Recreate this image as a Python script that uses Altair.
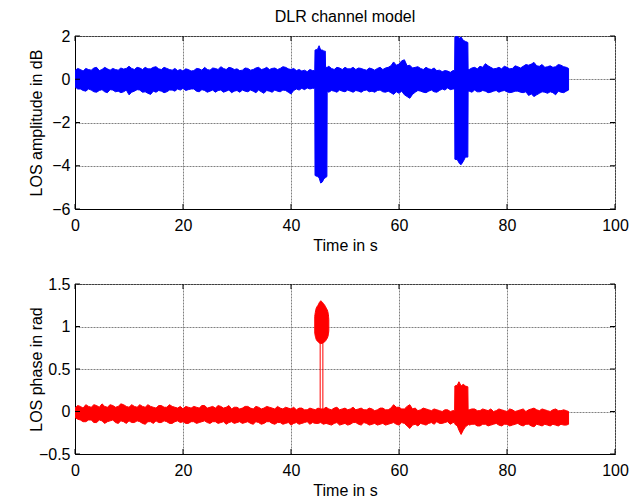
import altair as alt
import pandas as pd

# ---------------- data ----------------
# envelope of the noisy traces, sampled every second (t = 0..91, then 91.4)
base_t = list(range(92)) + [91.4]
# and the half-second points in between (t = 0.5 .. 90.5)
half_t = [k + 0.5 for k in range(91)]

# top panel: LOS amplitude envelope (dB)
amp_hi = [0.40,0.45,0.50,0.42,0.55,0.45,0.48,0.50,0.42,0.47,
          0.60,0.45,0.52,0.55,0.48,0.58,0.45,0.50,0.42,0.40,
          0.38,0.45,0.40,0.48,0.55,0.42,0.50,0.58,0.45,0.52,
          0.48,0.42,0.50,0.45,0.55,0.48,0.45,0.52,0.50,0.55,
          0.45,0.40,0.38,0.35,0.40,0.45,0.50,0.60,0.45,0.52,
          0.55,0.48,0.45,0.50,0.42,0.48,0.50,0.45,0.55,0.80,
          0.70,0.90,0.65,0.55,0.50,0.55,0.45,0.40,0.35,0.38,
          0.40,0.42,0.45,0.45,0.55,0.60,0.72,0.55,0.50,0.48,
          0.55,0.50,0.58,0.60,0.65,0.78,0.60,0.55,0.62,0.58,
          0.65,0.55,0.50]
amp_hi_half = [0.50,0.38,0.45,0.52,0.40,0.55,0.42,0.45,0.52,0.50,
               0.50,0.55,0.45,0.48,0.55,0.48,0.55,0.45,0.50,0.45,
               0.48,0.38,0.50,0.42,0.45,0.52,0.45,0.50,0.55,0.45,
               0.40,0.52,0.42,0.52,0.45,0.55,0.50,0.45,0.58,0.48,
               0.50,0.45,0.42,0.45,0.45,0.50,0.50,0.50,0.55,0.45,
               0.48,0.55,0.52,0.45,0.52,0.42,0.55,0.52,0.62,0.65,
               0.85,0.62,0.52,0.58,0.45,0.48,0.52,0.42,0.40,0.32,
               0.45,0.45,0.45,0.52,0.48,0.55,0.62,0.48,0.55,0.60,
               0.48,0.62,0.52,0.68,0.70,0.62,0.68,0.58,0.55,0.68,
               0.58]
amp_lo = [-0.35,-0.45,-0.55,-0.50,-0.60,-0.48,-0.62,-0.50,-0.55,-0.58,
          -0.72,-0.55,-0.50,-0.58,-0.70,-0.60,-0.55,-0.58,-0.50,-0.45,
          -0.42,-0.48,-0.45,-0.58,-0.52,-0.55,-0.60,-0.50,-0.55,-0.62,
          -0.52,-0.50,-0.58,-0.55,-0.50,-0.65,-0.55,-0.50,-0.58,-0.52,
          -0.68,-0.45,-0.42,-0.40,-0.42,-0.50,-0.55,-0.60,-0.55,-0.50,
          -0.58,-0.55,-0.52,-0.60,-0.50,-0.55,-0.52,-0.58,-0.55,-0.70,
          -0.65,-0.72,-0.88,-0.60,-0.55,-0.62,-0.50,-0.60,-0.45,-0.40,
          -0.45,-0.50,-0.50,-0.55,-0.50,-0.58,-0.55,-0.60,-0.52,-0.55,
          -0.58,-0.60,-0.55,-0.62,-0.75,-0.80,-0.65,-0.60,-0.58,-0.72,
          -0.60,-0.55,-0.50]
amp_lo_half = [-0.45,-0.52,-0.45,-0.58,-0.52,-0.58,-0.48,-0.58,-0.62,-0.50,
               -0.60,-0.48,-0.60,-0.65,-0.55,-0.52,-0.62,-0.50,-0.55,-0.50,
               -0.52,-0.45,-0.55,-0.48,-0.60,-0.50,-0.52,-0.60,-0.50,-0.55,
               -0.60,-0.55,-0.50,-0.62,-0.58,-0.52,-0.60,-0.55,-0.50,-0.60,
               -0.52,-0.50,-0.48,-0.45,-0.45,-0.50,-0.50,-0.52,-0.60,-0.55,
               -0.50,-0.60,-0.55,-0.52,-0.58,-0.60,-0.50,-0.60,-0.62,-0.58,
               -0.55,-0.80,-0.70,-0.52,-0.60,-0.55,-0.58,-0.52,-0.50,-0.48,
               -0.50,-0.50,-0.50,-0.60,-0.58,-0.52,-0.62,-0.55,-0.60,-0.52,
               -0.62,-0.55,-0.60,-0.58,-0.68,-0.72,-0.58,-0.65,-0.62,-0.55,
               -0.62]

# amplitude fade events
amp_ev1_t  = [44.4, 44.45, 44.9, 45.2, 45.5, 45.8, 46.1, 46.35, 46.4, 46.65, 46.7]
amp_ev1_hi = [0.40, 1.35, 1.38, 1.55, 1.35, 1.35, 1.30, 1.30, 0.55, 0.55, 0.55]
amp_ev1_lo = [-0.42, -4.45, -4.50, -4.55, -4.80, -4.75, -4.60, -4.55, -4.55, -4.50, -0.55]
amp_ev2_t  = [70.3, 70.35, 70.8, 71.2, 71.5, 71.9, 72.3, 72.75, 72.8]
amp_ev2_hi = [0.40, 1.95, 2.00, 1.90, 1.95, 1.80, 1.75, 1.70, 0.45]
amp_ev2_lo = [-0.45, -3.70, -3.72, -3.90, -3.95, -3.80, -3.60, -3.60, -0.55]

# bottom panel: LOS phase envelope (rad)
ph_hi = [0.04,0.06,0.08,0.05,0.07,0.09,0.05,0.07,0.06,0.08,
         0.05,0.06,0.08,0.05,0.06,0.04,0.07,0.05,0.06,0.04,
         0.03,0.05,0.06,0.04,0.07,0.05,0.04,0.06,0.05,0.03,
         0.05,0.04,0.06,0.03,0.05,0.04,0.05,0.03,0.04,0.05,
         0.03,0.02,0.04,0.02,0.03,0.04,0.03,0.03,0.04,0.02,
         0.04,0.03,0.02,0.04,0.02,0.03,0.02,0.04,0.02,0.08,
         0.05,0.03,0.08,0.04,0.02,0.03,0.01,0.02,0.00,0.02,
         0.01,0.02,0.02,0.02,0.03,0.01,0.02,0.03,0.01,0.02,
         0.00,0.02,0.01,0.03,0.02,0.04,0.01,0.02,0.00,0.03,
         0.01,0.01,0.00]
ph_hi_half = [0.07,0.04,0.06,0.08,0.05,0.06,0.08,0.05,0.09,0.06,
              0.08,0.05,0.06,0.08,0.05,0.07,0.05,0.08,0.05,0.06,
              0.06,0.04,0.05,0.07,0.04,0.06,0.07,0.04,0.07,0.05,
              0.03,0.06,0.04,0.06,0.03,0.06,0.04,0.06,0.03,0.04,
              0.05,0.04,0.02,0.04,0.02,0.03,0.05,0.02,0.05,0.03,
              0.02,0.05,0.03,0.02,0.04,0.01,0.04,0.02,0.04,0.05,
              0.03,0.06,0.03,0.01,0.04,0.02,0.03,0.01,0.02,0.00,
              0.00,0.00,0.00,0.03,0.01,0.03,0.01,0.00,0.03,0.01,
              0.03,0.00,0.02,0.00,0.03,0.02,0.03,0.01,0.02,0.01,
              0.02]
ph_lo = [-0.07,-0.10,-0.12,-0.10,-0.13,-0.11,-0.12,-0.10,-0.14,-0.12,
         -0.11,-0.13,-0.12,-0.15,-0.12,-0.11,-0.13,-0.12,-0.14,-0.11,
         -0.12,-0.14,-0.12,-0.13,-0.11,-0.14,-0.12,-0.13,-0.15,-0.12,
         -0.13,-0.14,-0.12,-0.15,-0.13,-0.14,-0.12,-0.15,-0.13,-0.14,
         -0.16,-0.13,-0.14,-0.12,-0.13,-0.14,-0.15,-0.15,-0.14,-0.16,
         -0.14,-0.15,-0.13,-0.16,-0.14,-0.15,-0.16,-0.14,-0.15,-0.13,
         -0.16,-0.14,-0.20,-0.15,-0.14,-0.16,-0.13,-0.12,-0.14,-0.12,
         -0.13,-0.15,-0.15,-0.16,-0.15,-0.17,-0.15,-0.16,-0.14,-0.17,
         -0.15,-0.16,-0.14,-0.17,-0.15,-0.18,-0.16,-0.15,-0.17,-0.16,
         -0.15,-0.16,-0.15]
ph_lo_half = [-0.09,-0.12,-0.10,-0.13,-0.10,-0.14,-0.11,-0.13,-0.11,-0.14,
              -0.13,-0.11,-0.14,-0.12,-0.14,-0.13,-0.11,-0.14,-0.12,-0.13,
              -0.14,-0.12,-0.14,-0.12,-0.13,-0.12,-0.14,-0.12,-0.13,-0.14,
              -0.12,-0.13,-0.14,-0.12,-0.15,-0.12,-0.14,-0.13,-0.15,-0.13,
              -0.14,-0.15,-0.13,-0.15,-0.14,-0.13,-0.14,-0.16,-0.13,-0.15,
              -0.16,-0.13,-0.15,-0.13,-0.16,-0.14,-0.15,-0.16,-0.14,-0.15,
              -0.13,-0.17,-0.16,-0.17,-0.15,-0.14,-0.15,-0.14,-0.13,-0.15,
              -0.15,-0.15,-0.15,-0.15,-0.17,-0.15,-0.17,-0.15,-0.16,-0.15,
              -0.17,-0.15,-0.16,-0.15,-0.17,-0.15,-0.17,-0.16,-0.15,-0.17,
              -0.16]

# phase events
ph_ev2_t  = [70.3, 70.35, 70.8, 71.1, 71.5, 71.9, 72.3, 72.75, 72.8]
ph_ev2_hi = [0.01, 0.30, 0.31, 0.35, 0.30, 0.32, 0.30, 0.29, 0.02]
ph_ev2_lo = [-0.13, -0.15, -0.17, -0.22, -0.27, -0.22, -0.18, -0.16, -0.15]
blob_t  = [44.4, 44.6, 45.0, 45.5, 46.0, 46.5, 46.9, 47.0]
blob_hi = [1.12, 1.20, 1.25, 1.30, 1.27, 1.22, 1.15, 1.08]
blob_lo = [0.92, 0.86, 0.82, 0.80, 0.81, 0.84, 0.90, 0.95]
jump_t  = [45.4, 45.9]
jump_lo = [0.02, 0.02]
jump_hi = [0.82, 0.82]

x_ticks = [0, 20, 40, 60, 80, 100]
amp_ticks = [-6, -4, -2, 0, 2]
ph_ticks = [-0.5, 0, 0.5, 1, 1.5]

# ---------------- tables ----------------
def merge(t, hi, lo, th, hh, lh, events):
    rows = []
    for a, b, c in list(zip(t, hi, lo)) + list(zip(th, hh, lh)):
        if not any(ev[0][0] <= a <= ev[0][-1] for ev in events):
            rows.append((a, b, c))
    for et, eh, el in events:
        rows.extend(zip(et, eh, el))
    rows.sort(key=lambda r: r[0])
    return pd.DataFrame(rows, columns=["t", "hi", "lo"])

df_amp = merge(base_t, amp_hi, amp_lo, half_t, amp_hi_half, amp_lo_half,
               [(amp_ev1_t, amp_ev1_hi, amp_ev1_lo), (amp_ev2_t, amp_ev2_hi, amp_ev2_lo)])
df_ph = merge(base_t, ph_hi, ph_lo, half_t, ph_hi_half, ph_lo_half,
              [(ph_ev2_t, ph_ev2_hi, ph_ev2_lo)])
df_blob = pd.DataFrame({"t": blob_t, "hi": blob_hi, "lo": blob_lo})
df_jump = pd.DataFrame({"t": jump_t, "hi": jump_hi, "lo": jump_lo})

W = 540
FONT = "Liberation Sans"
FS = 16
TICK = 5


def panel(df, color, ydomain, yticks, ytitle, H, extra=None):
    xs = alt.Scale(domain=[0, 100], nice=False, zero=False)
    ys = alt.Scale(domain=ydomain, nice=False, zero=False)
    xax = alt.Axis(values=x_ticks, title="Time in s", grid=True, labelFlush=False)
    yax = alt.Axis(values=yticks, title=ytitle, grid=True, titleX=-31, format="~g",
                   labelFlush=False)
    area = alt.Chart(df).mark_area(color=color, stroke=color, strokeWidth=1,
                                   opacity=1, clip=True).encode(
        x=alt.X("t:Q", scale=xs, axis=xax),
        y=alt.Y("hi:Q", scale=ys, axis=yax),
        y2="lo:Q",
    )
    layers = [area]
    if extra is not None:
        layers.extend(extra(xs, ys, ytitle))
    xt = pd.DataFrame({"v": x_ticks})
    yt = pd.DataFrame({"v": yticks})
    layers.append(alt.Chart(xt).mark_rule(color="black", strokeWidth=1).encode(
        x=alt.X("v:Q", scale=xs, title="Time in s"), y=alt.value(H), y2=alt.value(H - TICK)))
    layers.append(alt.Chart(xt).mark_rule(color="black", strokeWidth=1).encode(
        x=alt.X("v:Q", scale=xs, title="Time in s"), y=alt.value(0), y2=alt.value(TICK)))
    layers.append(alt.Chart(yt).mark_rule(color="black", strokeWidth=1).encode(
        y=alt.Y("v:Q", scale=ys, title=ytitle), x=alt.value(0), x2=alt.value(TICK)))
    layers.append(alt.Chart(yt).mark_rule(color="black", strokeWidth=1).encode(
        y=alt.Y("v:Q", scale=ys, title=ytitle), x=alt.value(W - TICK), x2=alt.value(W)))
    return alt.layer(*layers).properties(width=W, height=H)


def phase_extra(xs, ys, ytitle):
    blob = alt.Chart(df_blob).mark_area(color="#ff0000", stroke="#ff0000", strokeWidth=1,
                                        interpolate="monotone", clip=True).encode(
        x=alt.X("t:Q", scale=xs, title="Time in s"),
        y=alt.Y("hi:Q", scale=ys, title=ytitle),
        y2="lo:Q",
    )
    jump = alt.Chart(df_jump).mark_rule(color="#ff0000", strokeWidth=1).encode(
        x=alt.X("t:Q", scale=xs, title="Time in s"),
        y=alt.Y("lo:Q", scale=ys, title=ytitle),
        y2="hi:Q",
    )
    return [blob, jump]


top = panel(df_amp, "#0000ff", [-6, 2], amp_ticks, "LOS amplitude in dB", 173).properties(
    title=alt.TitleParams("DLR channel model", font=FONT, fontSize=FS, fontWeight="normal",
                          color="black", frame="group", anchor="middle", offset=3)
)
bottom = panel(df_ph, "#ff0000", [-0.5, 1.5], ph_ticks, "LOS phase in rad", 170, phase_extra)

chart = alt.vconcat(top, bottom, spacing=21).properties(
    padding={"left": 19, "top": 0, "right": 5, "bottom": 0},
    background="white",
).configure_view(
    stroke="black", strokeWidth=1
).configure_axis(
    labelFont=FONT, titleFont=FONT, labelFontSize=FS, titleFontSize=FS,
    titleFontWeight="normal", labelColor="black", titleColor="black",
    domainColor="black", domainWidth=1, ticks=False, tickSize=0,
    gridColor="#808080", gridDash=[2, 1], gridWidth=1,
).configure_axisX(
    labelPadding=8, titlePadding=4,
).configure_axisY(
    labelPadding=5,
)

chart.save("out.html", embed_options={"renderer": "svg", "actions": False})
